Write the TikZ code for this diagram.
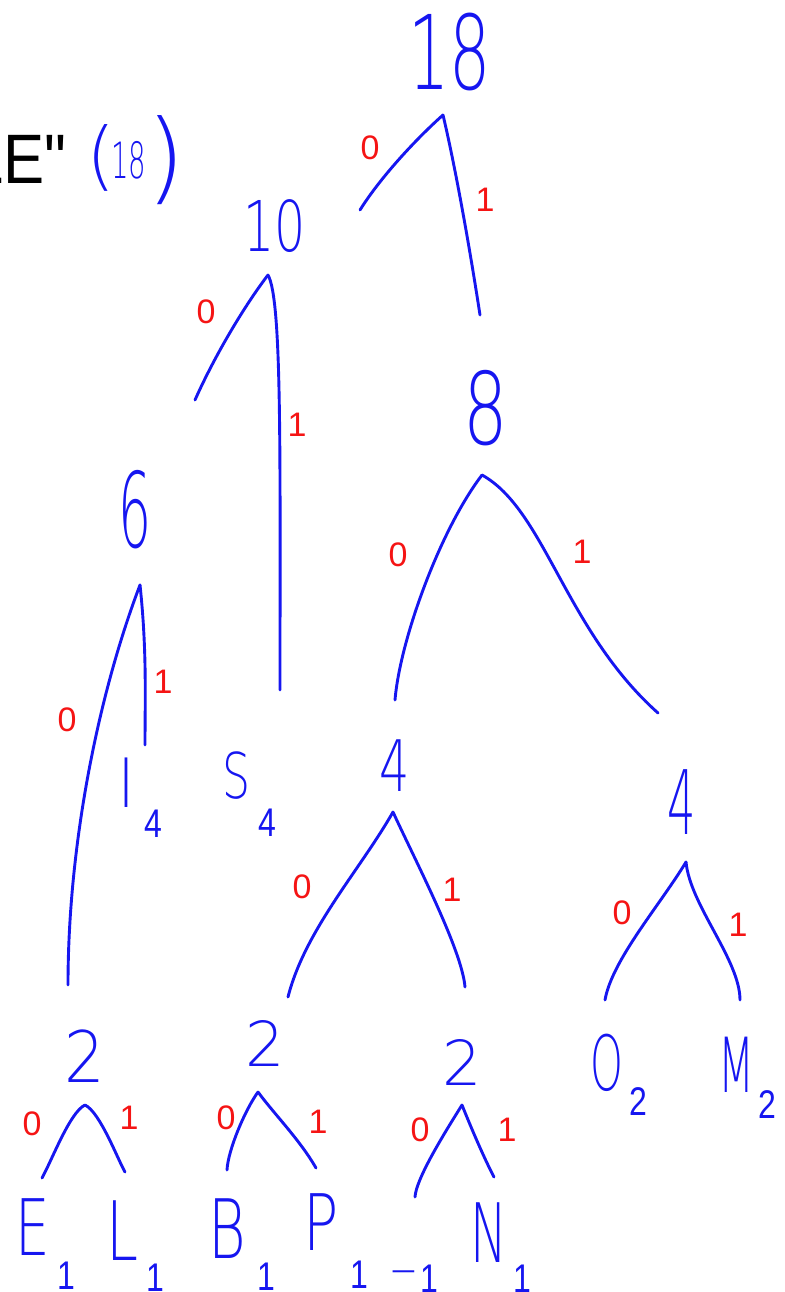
\documentclass[tikz,border=0pt]{standalone}
\usepackage{fontspec}
\setmainfont{Liberation Sans}
\setmonofont{Liberation Sans}
\newfontfamily\hand{DejaVu Sans ExtraLight}
\usepackage{graphicx}
\definecolor{pen}{RGB}{22,22,240}
\definecolor{pred}{RGB}{245,20,20}
\newcommand{\hw}[3][0.65]{\scalebox{#1}[1]{\fontsize{#2}{#2}\selectfont\hand #3}}
\newcommand{\subn}[2]{\raisebox{#1}{\scalebox{0.8}[1]{\fontsize{40}{40}\selectfont #2}}}
\tikzset{
  pen/.style={draw=pen, line width=2.9pt, line cap=round, line join=round},
  num/.style={text=pen, inner sep=0pt},
  bit/.style={text=pred, inner sep=0pt, font=\fontsize{34}{34}\selectfont},
  leaf/.style={text=pen, inner sep=0pt, anchor=base west},
}
\begin{document}
\begin{tikzpicture}[x=1pt,y=-1pt]
\useasboundingbox (0,0) rectangle (784,1292);
\clip (0,0) rectangle (784,1292);
% title fragment
\node[anchor=base east, inner sep=0pt] (title) at (67,184) {\scalebox{0.88}[1]{\fontsize{70}{70}\selectfont\ttfamily LE"}};
\node[num] (lp) at (101,158) {\hw[1]{75}{(}};
\node[num] (tot) at (129,160) {\hw[0.55]{50}{18}};
\node[num] (rp) at (166,160) {\hw[1]{100}{)}};
% internal nodes
\node[num] (n18) at (450,52) {\hw[0.63]{103}{18}};
\node[num] (n10) at (275,226) {\hw[0.7]{70}{10}};
\node[num] (n8) at (486,408) {\hw[0.7]{100}{8}};
\node[num] (n6) at (135,510) {\hw[0.5]{104}{6}};
\node[num] (n4a) at (395,766) {\hw[0.67]{71}{4}};
\node[num] (n4b) at (682,802) {\hw[0.5]{89}{4}};
\node[num] (n2a) at (85,1056) {\hw[0.9]{71}{2}};
\node[num] (n2b) at (265,1043) {\hw[1]{62}{2}};
\node[num] (n2c) at (462,1062) {\hw[1]{62}{2}};
% leaves
\node[leaf] (lI) at (118,807) {\hw[0.8]{68}{I}\hspace{10pt}\subn{-30pt}{4}};
\node[leaf] (lS) at (222,798) {\hw[0.7]{63}{S}\hspace{8pt}\subn{-38pt}{4}};
\node[leaf] (lE) at (15,1255) {\hw[0.7]{78}{E}\hspace{8pt}\subn{-34pt}{1}};
\node[leaf] (lL) at (106,1260) {\hw[0.7]{82}{L}\hspace{8pt}\subn{-31pt}{1}};
\node[leaf] (lB) at (208,1258) {\hw[0.7]{82}{B}\hspace{12pt}\subn{-32pt}{1}};
\node[leaf] (lP) at (303,1250) {\hw[0.75]{78}{P}\hspace{12pt}\subn{-38pt}{1}};
\node[leaf] (lsp) at (393,1260) {\hw[0.8]{52}{\_}\hspace{6pt}\subn{-32pt}{1}};
\node[leaf] (lN) at (470,1262) {\hw[0.6]{82}{N}\hspace{6pt}\subn{-30pt}{1}};
\node[leaf] (lO) at (590,1090) {\hw[0.55]{76}{O}\hspace{6pt}\subn{-25pt}{2}};
\node[leaf] (lM) at (718,1092) {\hw[0.55]{76}{M}\hspace{4pt}\subn{-26pt}{2}};
% connector coordinates
\coordinate (a18) at (443,115); \coordinate (l18) at (360,210); \coordinate (r18) at (480,315);
\coordinate (a10) at (268,275); \coordinate (l10) at (195,400); \coordinate (r10) at (280,690);
\coordinate (a8) at (482,475);  \coordinate (l8) at (395,700);  \coordinate (r8) at (658,713);
\coordinate (a6) at (140,585);  \coordinate (l6) at (68,985);   \coordinate (r6) at (145,745);
\coordinate (a4a) at (393,812); \coordinate (l4a) at (288,997); \coordinate (r4a) at (465,987);
\coordinate (a4b) at (686,862); \coordinate (l4b) at (605,1000); \coordinate (r4b) at (740,1000);
\coordinate (a2a) at (85,1105); \coordinate (l2a) at (42,1178); \coordinate (r2a) at (125,1172);
\coordinate (a2b) at (258,1092); \coordinate (l2b) at (227,1170); \coordinate (r2b) at (316,1168);
\coordinate (a2c) at (462,1105); \coordinate (l2c) at (415,1197); \coordinate (r2c) at (494,1177);
% connectors
\draw[pen] (a18) .. controls (415,140) and (380,178) .. (l18);
\draw[pen] (a18) .. controls (456,170) and (470,250) .. (r18);
\draw[pen] (a10) .. controls (245,305) and (215,355) .. (l10);
\draw[pen] (a10) .. controls (282,300) and (280,450) .. (r10);
\draw[pen] (a8) .. controls (440,530) and (400,640) .. (l8);
\draw[pen] (a8) .. controls (545,510) and (565,630) .. (r8);
\draw[pen] (a6) .. controls (100,690) and (68,840) .. (l6);
\draw[pen] (a6) .. controls (147,650) and (145,700) .. (r6);
\draw[pen] (a4a) .. controls (360,870) and (305,930) .. (l4a);
\draw[pen] (a4a) .. controls (415,860) and (462,950) .. (r4a);
\draw[pen] (a4b) .. controls (660,905) and (612,960) .. (l4b);
\draw[pen] (a4b) .. controls (690,905) and (740,960) .. (r4b);
\draw[pen] (a2a) .. controls (70,1112) and (52,1160) .. (l2a);
\draw[pen] (a2a) .. controls (100,1112) and (118,1160) .. (r2a);
\draw[pen] (a2b) .. controls (245,1110) and (228,1150) .. (l2b);
\draw[pen] (a2b) .. controls (275,1115) and (300,1140) .. (r2b);
\draw[pen] (a2c) .. controls (440,1140) and (416,1180) .. (l2c);
\draw[pen] (a2c) .. controls (472,1130) and (485,1160) .. (r2c);
% bit labels
\node[bit] (b18z) at (370,148) {0};  \node[bit] (b18o) at (485,200) {1};
\node[bit] (b10z) at (206,312) {0};  \node[bit] (b10o) at (297,425) {1};
\node[bit] (b8z) at (398,555) {0};   \node[bit] (b8o) at (582,552) {1};
\node[bit] (b6z) at (67,720) {0};    \node[bit] (b6o) at (163,682) {1};
\node[bit] (b4az) at (302,887) {0};  \node[bit] (b4ao) at (452,890) {1};
\node[bit] (b4bz) at (622,913) {0};  \node[bit] (b4bo) at (738,925) {1};
\node[bit] (b2az) at (32,1124) {0};  \node[bit] (b2ao) at (129,1118) {1};
\node[bit] (b2bz) at (226,1118) {0}; \node[bit] (b2bo) at (318,1122) {1};
\node[bit] (b2cz) at (420,1130) {0}; \node[bit] (b2co) at (507,1130) {1};
\end{tikzpicture}
\end{document}
